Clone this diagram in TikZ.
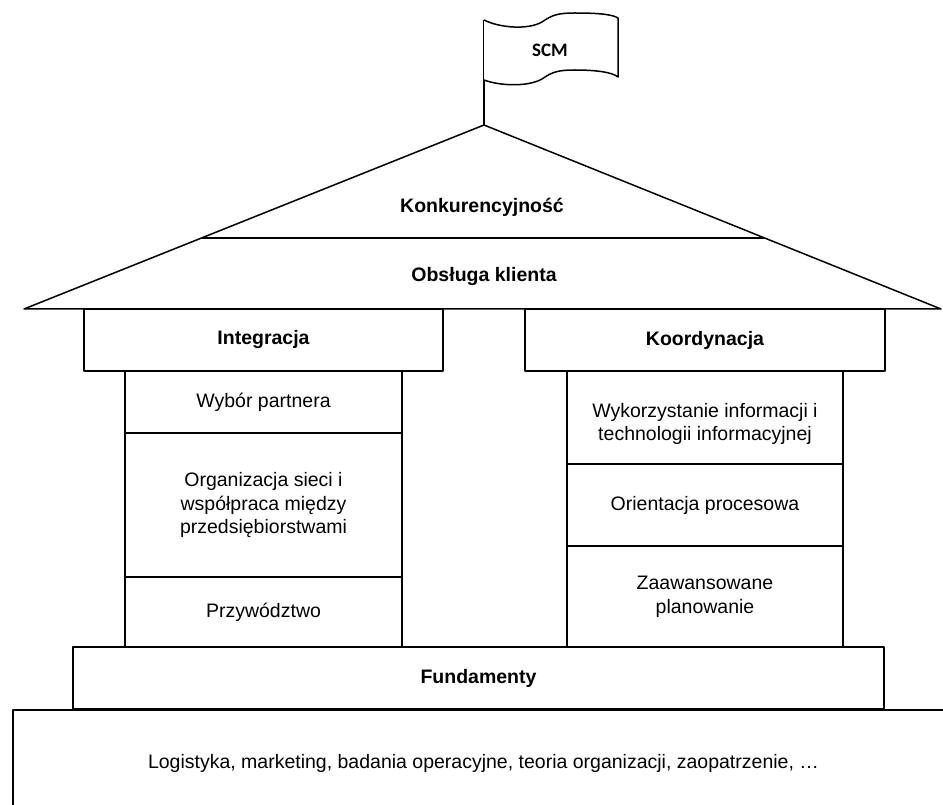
\documentclass[tikz,border=0pt]{standalone}
\usepackage{fontspec}
\setmainfont{Liberation Sans}
\newfontfamily\flagfont{Carlito}
\usetikzlibrary{calc}
\tikzset{
  outline/.style={draw=black, line width=1.5pt, line join=round},
  cell/.style={outline, fill=white, inner sep=0pt, align=center, font=\fontsize{19.5}{23.5}\selectfont},
  head/.style={cell, font=\fontsize{19.5}{23.5}\selectfont\bfseries},
  label/.style={inner sep=0pt, align=center, font=\fontsize{19.5}{23.5}\selectfont},
  boldlabel/.style={label, font=\fontsize{19.5}{23.5}\selectfont\bfseries},
}
\begin{document}
\begin{tikzpicture}[x=1pt, y=-1pt]
\useasboundingbox (0,0) rectangle (943,805);
\clip (0,0) rectangle (943,805);

% flag on its pole
\coordinate (poletop) at (484,20);
\coordinate (apex) at (484,125);
\draw[outline] (apex) -- (poletop);
\draw[outline, fill=white] (poletop)
  .. controls (500,28) and (528,30) .. (542,22)
  .. controls (552,15) and (558,13) .. (575,13)
  .. controls (595,13) and (612,14) .. (618,18)
  -- (618,77)
  .. controls (612,72) and (595,70) .. (575,70)
  .. controls (558,70) and (552,72) .. (542,79)
  .. controls (528,87) and (500,86) .. (484,80);
\node[inner sep=0pt, font=\flagfont\bfseries\fontsize{19}{22}\selectfont] (scm) at (550,50) {SCM};

% roof
\coordinate (roofL) at (24,309);
\coordinate (roofR) at (941,309);
\draw[outline, fill=white] (apex) -- (roofL) -- (roofR) -- cycle;
\coordinate (divL) at ($(apex)!0.614!(roofL)$);
\coordinate (divR) at ($(apex)!0.614!(roofR)$);
\draw[outline] (divL) -- (divR);
\node[boldlabel] (konk) at (482,207) {Konkurencyjność};
\node[boldlabel] (obsl) at (484,277) {Obsługa klienta};

% left pillar
\node[cell, minimum width=277pt, minimum height=62pt] (wybor) at (263.5,402) {Wybór partnera};
\node[cell, minimum width=277pt, minimum height=144pt] (org) at (263.5,505) {Organizacja sieci i\\współpraca między\\przedsiębiorstwami};
\node[cell, minimum width=277pt, minimum height=71pt] (przyw) at (263.5,612.5) {Przywództwo};
\node[head, minimum width=359pt, minimum height=62pt] (integ) at (263.5,340) {Integracja};

% right pillar
\node[cell, minimum width=276pt, minimum height=93pt] (wyk) at (705,417.5) {};
\node[label] (wyktxt) at (705,424) {Wykorzystanie informacji i\\technologii informacyjnej};
\node[cell, minimum width=276pt, minimum height=82pt] (orient) at (705,505) {Orientacja procesowa};
\node[cell, minimum width=276pt, minimum height=102pt] (zaaw) at (705,597) {Zaawansowane\\planowanie};
\node[head, minimum width=360pt, minimum height=62pt] (koord) at (705,340) {Koordynacja};

% foundations
\node[head, minimum width=811pt, minimum height=62pt] (fund) at (478.5,678) {Fundamenty};
\node[cell, minimum width=960pt, minimum height=108pt, anchor=north west] (base) at (12,709) {};
\node[label] (basetxt) at (483.5,763) {Logistyka, marketing, badania operacyjne, teoria organizacji, zaopatrzenie, \ldots};
\end{tikzpicture}
\end{document}
